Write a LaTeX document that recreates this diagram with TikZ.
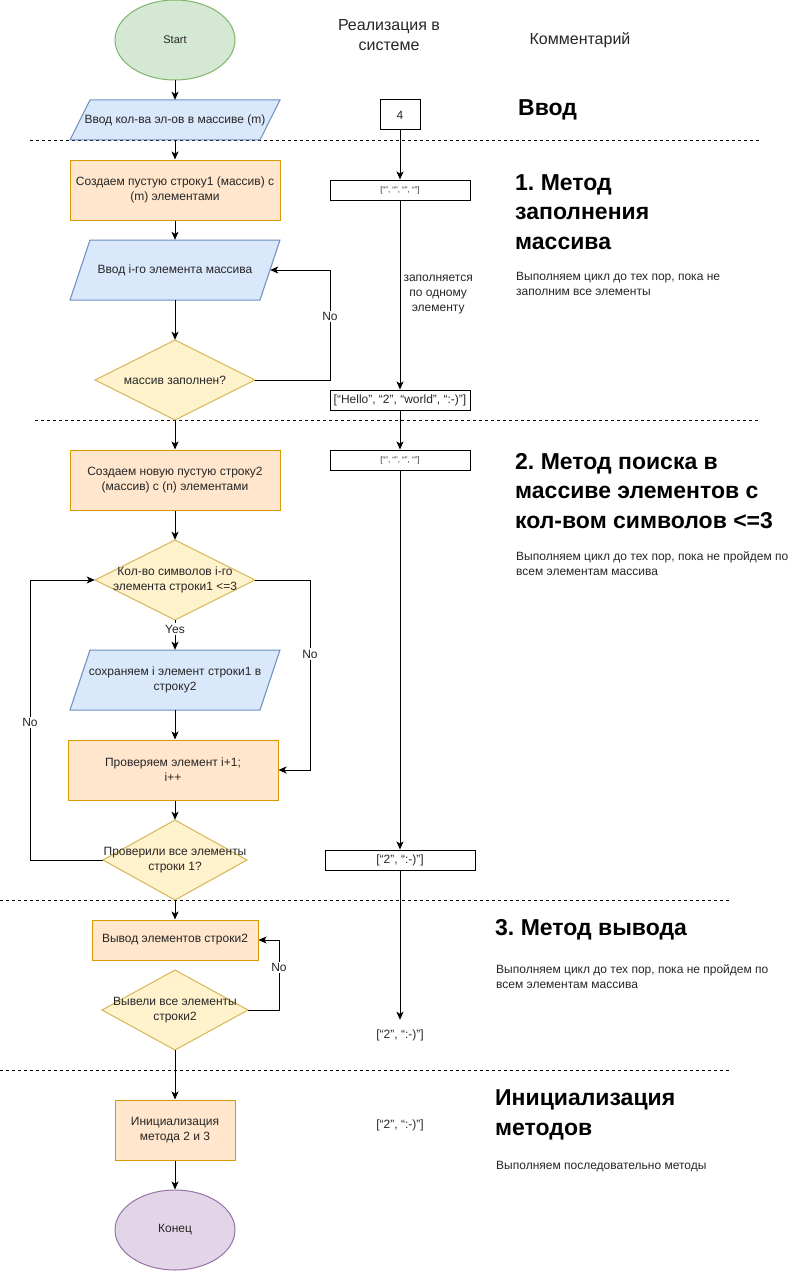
\documentclass[tikz,border=0pt]{standalone}
\usepackage{fontspec}
\setmainfont{Liberation Sans}
\usetikzlibrary{arrows.meta,shapes.geometric}
\frenchspacing
\definecolor{procF}{HTML}{FFE6CC}\definecolor{procS}{HTML}{D79B00}
\definecolor{ioF}{HTML}{DAE8FC}\definecolor{ioS}{HTML}{6C8EBF}
\definecolor{decF}{HTML}{FFF2CC}\definecolor{decS}{HTML}{D6B656}
\definecolor{startF}{HTML}{D5E8D4}\definecolor{startS}{HTML}{82B366}
\definecolor{endF}{HTML}{E1D5E7}\definecolor{endS}{HTML}{9673A6}
\newcommand\mydiam[6]{%
  \path[decshape] (#2-#4,#3) -- (#2,#3-#5) -- (#2+#4,#3) -- (#2,#3+#5) -- cycle;
  \node[minimum width=2*#4, minimum height=2*#5] (#1) at (#2,#3) {#6};}
\newcommand\mypara[7]{%
  \path[ioshape] (#2-#4,#3+#5) -- (#2-#4+#6,#3-#5) -- (#2+#4,#3-#5) -- (#2+#4-#6,#3+#5) -- cycle;
  \node[minimum width=2*#4, minimum height=2*#5] (#1) at (#2,#3) {#7};}
\begin{document}
\begin{tikzpicture}[x=1pt,y=-1pt,
  every node/.style={font=\fontsize{12}{15}\selectfont, align=center, inner sep=0pt, text=black!85},
  proc/.style={draw=procS, fill=procF, line width=1pt},
  ioshape/.style={draw=ioS, fill=ioF, line width=1pt},
  decshape/.style={draw=decS, fill=decF, line width=1pt},
  sysbox/.style={draw=black, fill=white, line width=1pt},
  arr/.style={line width=1pt, -{Stealth[length=8pt,width=7pt,inset=2pt]}},
  sep/.style={line width=0.8pt, dash pattern=on 3pt off 3pt},
  lbl/.style={fill=white, inner sep=1.5pt},
  head/.style={font=\fontsize{16}{20}\selectfont},
  big/.style={font=\fontsize{23}{29.5}\selectfont\bfseries, align=left, anchor=west, text=black},
  cmt/.style={font=\fontsize{12}{15}\selectfont, align=left, anchor=west}
]
\useasboundingbox (0,0) rectangle (801,1271);
% separators
\draw[sep] (30,140) -- (760,140);
\draw[sep] (35,420) -- (760,420);
\draw[sep] (0,900) -- (730,900);
\draw[sep] (0,1070) -- (730,1070);

% flowchart
\node[ellipse, draw=startS, fill=startF, line width=1pt, minimum width=120, minimum height=80, font=\fontsize{11}{13}\selectfont] (start) at (175,40) {Start};
\mypara{in1}{175}{120}{105}{20}{20}{Ввод кол-ва эл-ов в массиве (m)}
\node[proc, minimum width=210, minimum height=60] (p1) at (175,190) {Создаем пустую строку1 (массив) с\\(m) элементами};
\mypara{in2}{175}{270}{105}{30}{20}{Ввод i-го элемента массива}
\mydiam{d1}{175}{380}{80}{40}{массив заполнен?}
\node[proc, minimum width=210, minimum height=60] (p2) at (175,480) {Создаем новую пустую строку2\\(массив) с (n) элементами};
\mydiam{d2}{175}{580}{80}{40}{Кол-во символов i-го\\элемента строки1 <=3}
\mypara{in3}{175}{680}{105}{30}{20}{сохраняем i элемент строки1 в\\строку2}
\node[proc, minimum width=210, minimum height=60] (p3) at (173,770) {Проверяем элемент i+1;\\i++};
\mydiam{d3}{175}{860}{72}{40}{Проверили все элементы\\строки 1?}
\node[proc, minimum width=166, minimum height=40] (p4) at (175,940) {Вывод элементов строки2};
\mydiam{d4}{175}{1010}{73}{40}{Вывели все элементы\\строки2}
\node[proc, minimum width=120, minimum height=60] (p5) at (175,1130) {Инициализация\\метода 2 и 3};
\node[ellipse, draw=endS, fill=endF, line width=1pt, minimum width=120, minimum height=80] (end) at (175,1230) {Конец};

\draw[arr] (start.south) -- (in1.north);
\draw[arr] (in1.south) -- (p1.north);
\draw[arr] (p1.south) -- (in2.north);
\draw[arr] (in2.south) -- (d1.north);
\draw[arr] (d1.east) -- (330,380) -- node[lbl, pos=0.58]{No} (330,270) -- ([xshift=-10]in2.east);
\draw[arr] (d1.south) -- (p2.north);
\draw[arr] (p2.south) -- (d2.north);
\draw[arr] (d2.south) -- node[lbl, pos=0.3]{Yes} (in3.north);
\draw[arr] (d2.east) -- (310,580) -- node[lbl, pos=0.39]{No} (310,770) -- (p3.east);
\draw[arr] (in3.south) -- (in3.south |- p3.north);
\draw[arr] (p3.south -| d3.north) -- (d3.north);
\draw[arr] (d3.west) -- (30,860) -- node[lbl, pos=0.49]{No} (30,580) -- (d2.west);
\draw[arr] (d3.south) -- (p4.north);
\draw[arr] (d4.east) -- (279,1010) -- node[lbl, pos=0.61]{No} (279,940) -- (p4.east);
\draw[arr] (d4.south) -- (p5.north);
\draw[arr] (p5.south) -- (end.north);

% system column
\node[head] (h1) at (389,35) {Реализация в\\системе};
\node[head] (h2) at (580,40) {Комментарий};
\node[sysbox, minimum width=40, minimum height=30] (b4) at (400,115) {4};
\node[sysbox, minimum width=140, minimum height=20, font=\fontsize{8}{10}\selectfont] (a1) at (400,190) {[“”, “”, “”, “”]};
\node[sysbox, minimum width=140, minimum height=20] (a2) at (400,400) {[“Hello”, “2”, “world”, “:-)”]};
\node[sysbox, minimum width=140, minimum height=20, font=\fontsize{8}{10}\selectfont] (a3) at (400,460) {[“”, “”, “”, “”]};
\node[sysbox, minimum width=150, minimum height=20] (a4) at (400,860) {[“2”, “:-)”]};
\node[minimum height=30] (t5) at (400,1035) {[“2”, “:-)”]};
\node (t6) at (400,1125) {[“2”, “:-)”]};
\draw[arr] (b4.south) -- (a1.north);
\draw[arr] (a1.south) -- node[anchor=west, xshift=3pt]{заполняется\\по одному\\элементу} (a2.north);
\draw[arr] (a2.south) -- (a3.north);
\draw[arr] (a3.south) -- (a4.north);
\draw[arr] (a4.south) -- (t5.north);

% comment column
\node[big] (c0) at (518,110) {Ввод};
\node[big] (c1) at (515,212) {1. Метод\\заполнения\\массива};
\node[cmt] (c1t) at (516,283.5) {Выполняем цикл до тех пор, пока не\\заполним все элементы};
\node[big] (c2) at (515,491) {2. Метод поиска в\\массиве элементов с\\кол-вом символов <=3};
\node[cmt] (c2t) at (516,563.5) {Выполняем цикл до тех пор, пока не пройдем по\\всем элементам массива};
\node[big] (c3) at (495,930) {3. Метод вывода};
\node[cmt] (c3t) at (496,976.5) {Выполняем цикл до тех пор, пока не пройдем по\\всем элементам массива};
\node[big] (c4) at (495,1115) {Инициализация\\методов};
\node[cmt] (c4t) at (496,1167) {Выполняем последовательно методы};
\end{tikzpicture}
\end{document}
